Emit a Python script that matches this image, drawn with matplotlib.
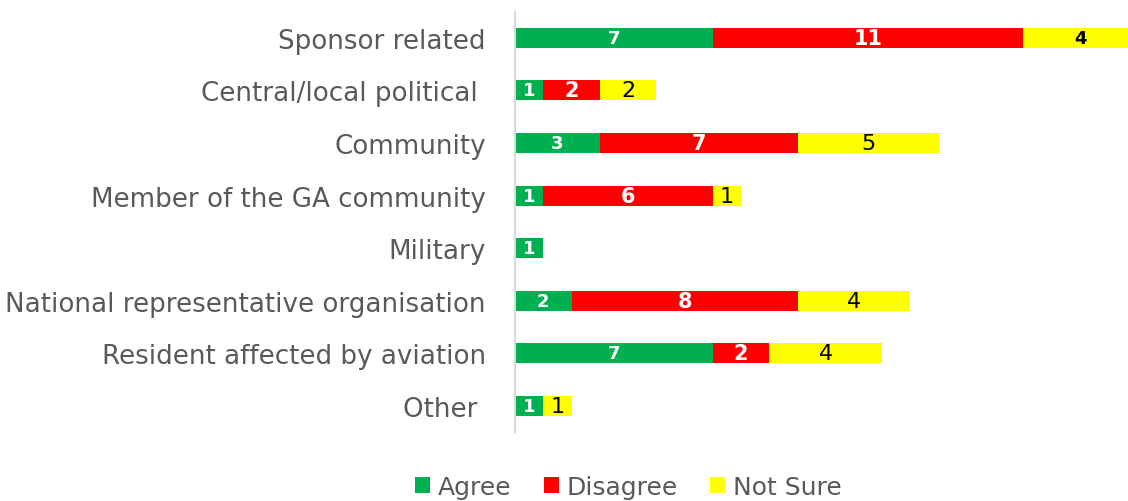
import numpy as np
import matplotlib
matplotlib.use("Agg")
import matplotlib.pyplot as plt
from matplotlib.patches import Patch

categories = ["Sponsor related", "Central/local political ", "Community",
              "Member of the GA community", "Military",
              "National representative organisation",
              "Resident affected by aviation", "Other "]
agree = [7, 1, 3, 1, 1, 2, 7, 1]
disagree = [11, 2, 7, 6, 0, 8, 2, 0]
not_sure = [4, 2, 5, 1, 0, 4, 4, 1]
series_names = ["Agree", "Disagree", "Not Sure"]

colors = ["#00B050", "#FF0000", "#FFFF00"]
text_gray = "#595959"

plt.rcParams['font.family'] = 'DejaVu Sans'

fig = plt.figure(figsize=(11.28, 5.02), dpi=100)
ax = fig.add_axes([0.4566, 0.137, 0.5434, 0.838])

y = np.arange(len(categories))
h = 0.38
left = np.zeros(len(categories))
label_styles = [
    dict(color="white", fontsize=13, fontweight="bold"),
    dict(color="white", fontsize=15, fontweight="bold"),
    dict(color="black", fontsize=16),
]
for k, vals in enumerate([agree, disagree, not_sure]):
    vals = np.array(vals)
    ax.barh(y, vals, h, left=left, color=colors[k], label=series_names[k])
    for i, v in enumerate(vals):
        if v > 0:
            style = dict(label_styles[k])
            if k == 2 and i == 0:
                style.update(fontsize=13, fontweight="bold")
            ax.text(left[i] + v / 2, y[i], str(v), ha="center", va="center", **style)
    left = left + vals

ax.set_ylim(len(categories) - 0.5, -0.5)
ax.set_xlim(0, 21.7)
ax.set_yticks(y)
ax.set_yticklabels(categories, fontsize=18.8, color=text_gray)
ax.tick_params(axis="y", length=0, pad=21)
ax.set_xticks([])
for s in ["top", "right", "bottom"]:
    ax.spines[s].set_visible(False)
ax.spines["left"].set_color("#D9D9D9")
ax.spines["left"].set_linewidth(1.5)

handles = [Patch(facecolor=c) for c in colors]
fig.legend(handles, series_names, loc="center", bbox_to_anchor=(0.557, 0.028),
           ncol=3, frameon=False, fontsize=18, labelcolor=text_gray,
           handlelength=0.6, handleheight=0.6, handletextpad=0.3, columnspacing=1.3)

fig.savefig("out.png", dpi=100)
